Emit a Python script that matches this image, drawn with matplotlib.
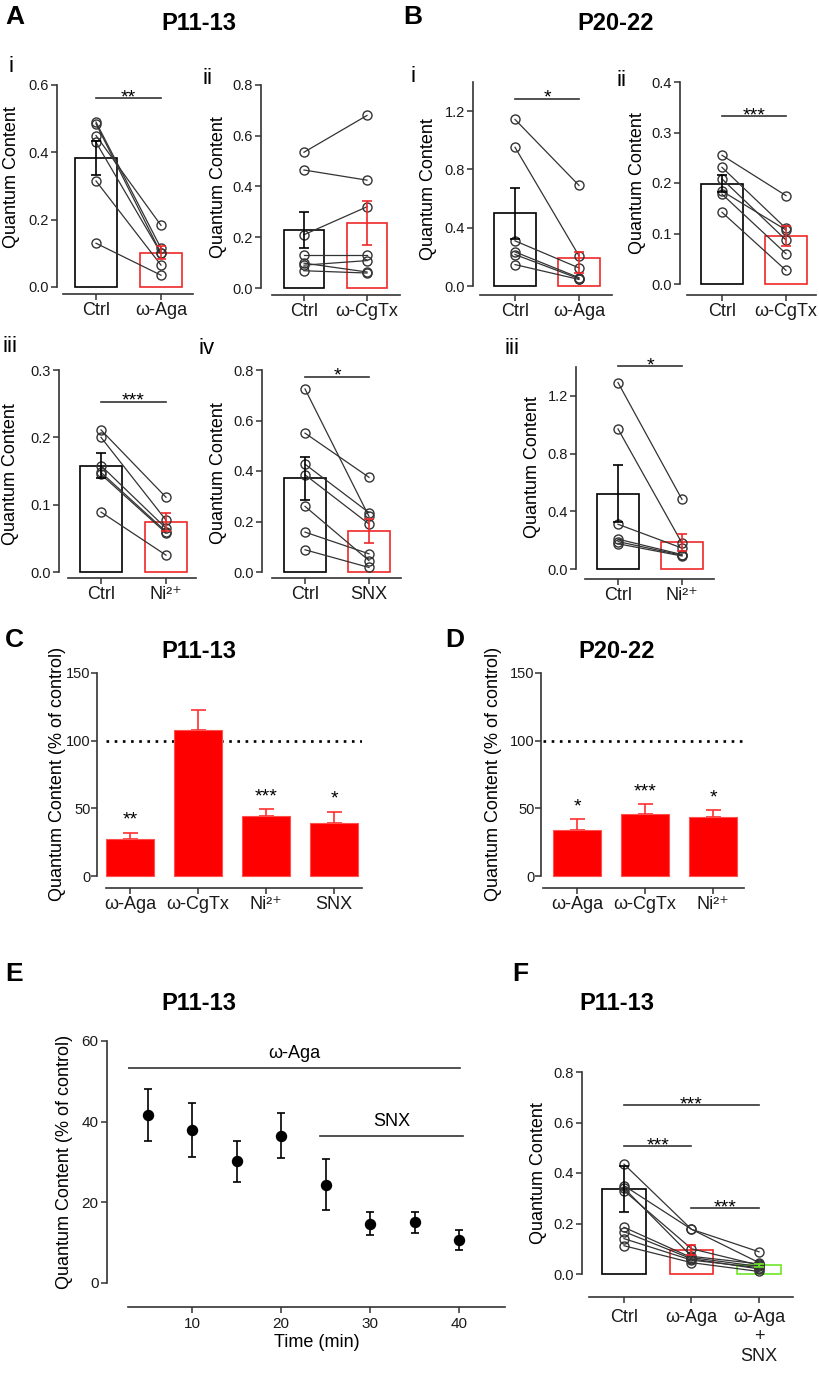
import matplotlib
matplotlib.use("Agg")
import matplotlib.pyplot as plt
import numpy as np

# ---- values ----
# A (P11-13), paired cells: control vs drug
ai_labels = ["Ctrl", "ω-Aga"]
ai_ctrl = [0.49, 0.485, 0.45, 0.43, 0.315, 0.13]
ai_drug = [0.115, 0.10, 0.183, 0.10, 0.065, 0.035]
ai_mean = [0.383, 0.102]
ai_sem = [0.05, 0.02]

aii_labels = ["Ctrl", "ω-CgTx"]
aii_ctrl = [0.535, 0.465, 0.21, 0.13, 0.098, 0.09, 0.068]
aii_drug = [0.68, 0.425, 0.32, 0.13, 0.063, 0.108, 0.059]
aii_mean = [0.228, 0.256]
aii_sem = [0.072, 0.088]

aiii_labels = ["Ctrl", "Ni²⁺"]
aiii_ctrl = [0.211, 0.20, 0.158, 0.148, 0.145, 0.089]
aiii_drug = [0.111, 0.077, 0.065, 0.060, 0.058, 0.025]
aiii_mean = [0.158, 0.074]
aiii_sem = [0.018, 0.013]

aiv_labels = ["Ctrl", "SNX"]
aiv_ctrl = [0.725, 0.55, 0.427, 0.385, 0.26, 0.158, 0.088]
aiv_drug = [0.22, 0.375, 0.235, 0.19, 0.045, 0.072, 0.018]
aiv_mean = [0.372, 0.163]
aiv_sem = [0.085, 0.048]

# B (P20-22)
bi_labels = ["Ctrl", "ω-Aga"]
bi_ctrl = [1.143, 0.952, 0.31, 0.234, 0.216, 0.147]
bi_drug = [0.69, 0.207, 0.124, 0.057, 0.05, 0.045]
bi_mean = [0.499, 0.195]
bi_sem = [0.176, (0.105, 0.035)]

bii_labels = ["Ctrl", "ω-CgTx"]
bii_ctrl = [0.255, 0.231, 0.208, 0.184, 0.178, 0.142]
bii_drug = [0.175, 0.11, 0.087, 0.107, 0.06, 0.027]
bii_mean = [0.199, 0.095]
bii_sem = [0.016, 0.02]

biii_labels = ["Ctrl", "Ni²⁺"]
biii_ctrl = [1.292, 0.971, 0.31, 0.207, 0.19, 0.175]
biii_drug = [0.482, 0.179, 0.145, 0.10, 0.095, 0.09]
biii_mean = [0.523, 0.184]
biii_sem = [0.195, 0.06]

# C / D: % of control
c_labels = ["ω-Aga", "ω-CgTx", "Ni²⁺", "SNX"]
c_mean = [27.2, 108.2, 44.7, 39.5]
c_sem = [4.8, 14.6, 4.5, 7.5]
c_stars = ["**", "", "***", "*"]
c_star_y = [45.5, 0, 62.8, 61.5]

d_labels = ["ω-Aga", "ω-CgTx", "Ni²⁺"]
d_mean = [34.3, 46.0, 43.7]
d_sem = [7.5, 7.4, 4.7]
d_stars = ["*", "***", "*"]
d_star_y = [55.6, 66.5, 61.8]

# E: time course
e_time = [5, 10, 15, 20, 25, 30, 35, 40]
e_mean = [41.6, 37.9, 30.2, 36.5, 24.4, 14.7, 15.1, 10.7]
e_sem = [6.5, 6.7, 5.1, 5.6, 6.3, 2.8, 2.6, 2.4]
e_drugs = ["ω-Aga", "SNX"]
e_drug_start = [2.8, 24.4]
e_drug_end = [40.1, 40.4]
e_drug_y = [53.3, 36.5]

# F: Ctrl -> ω-Aga -> ω-Aga + SNX
f_labels = ["Ctrl", "ω-Aga", "ω-Aga\n+\nSNX"]
f_ctrl = [0.435, 0.35, 0.34, 0.33, 0.185, 0.168, 0.14, 0.112]
f_aga = [0.177, 0.177, 0.07, 0.10, 0.065, 0.06, 0.055, 0.045]
f_snx = [0.088, 0.045, 0.04, 0.035, 0.03, 0.02, 0.025, 0.01]
f_mean = [0.337, 0.095, 0.034]
f_sem = [0.09, 0.018, 0.005]

# ---- style ----
plt.rcParams["font.family"] = ["Liberation Sans", "DejaVu Sans"]

W, H = 820, 1373
PT = 72 / 100
DARK = "#333333"
RED = "#f02828"
GREEN = "#6ee62a"

fig = plt.figure(figsize=(W / 100, H / 100), dpi=100)


def ftext(x, y, s, **kw):
    fig.text(x / W, 1 - y / H, s, **kw)


def make_axes(box, yax, xax, cat, vals):
    x0, x1, ytop, y0 = box
    ax = fig.add_axes([x0 / W, 1 - y0 / H, (x1 - x0) / W, (y0 - ytop) / H])
    u = (cat[1] - cat[0]) / (vals[1] - vals[0])
    ax.set_xlim(vals[0] + (x0 - cat[0]) / u, vals[0] + (x1 - cat[0]) / u)
    for s in ("top", "right"):
        ax.spines[s].set_visible(False)
    ax.spines["left"].set_position(("outward", (x0 - yax) * PT))
    ax.spines["bottom"].set_position(("outward", (xax - y0) * PT))
    for s in ("left", "bottom"):
        ax.spines[s].set_color(DARK)
        ax.spines[s].set_linewidth(1.2)
    ax.tick_params(colors=DARK, width=1.1, length=4.5, labelcolor="#1a1a1a")
    ax.tick_params(axis="y", labelsize=10.5, pad=1.5)
    ax.tick_params(axis="x", labelsize=13, pad=1)
    ax.patch.set_alpha(0)
    return ax


def sig(ax, a, b, y, s):
    ax.plot([a, b], [y, y], color=DARK, lw=1.2, clip_on=False)
    ax.annotate(s, ((a + b) / 2, y), xytext=(0, -3), textcoords="offset points",
                ha="center", va="baseline", fontsize=14, annotation_clip=False)


def paired(ax, labels, groups, mean, err, colors, ymax, yticks, sigs):
    xs = np.arange(len(labels))
    ax.set_ylim(0, ymax)
    ax.set_yticks(yticks)
    ax.set_yticklabels([f"{t:.1f}" for t in yticks])
    ax.set_xticks(xs)
    ax.set_xticklabels(labels)
    ax.bar(xs, mean, width=0.65, facecolor="none", edgecolor=colors, lw=1.2,
           clip_on=False, zorder=1)
    for cell in zip(*groups):
        ax.plot(xs, cell, color=DARK, lw=0.9, marker="o", ms=6.5, mfc="none",
                mec=DARK, mew=1.0, zorder=3, clip_on=False)
    for i, e in enumerate(err):
        lo, hi = e if isinstance(e, tuple) else (e, e)
        ax.errorbar(i, mean[i], yerr=[[lo], [hi]], fmt="none", ecolor=colors[i],
                    capsize=3.6, elinewidth=1.2, capthick=1.2, zorder=4)
    for a, b, y, s in sigs:
        sig(ax, a, b, y, s)


def pct_bars(ax, labels, mean, sem, stars, star_y):
    xs = np.arange(len(labels))
    ax.set_ylim(0, 150)
    ax.set_yticks([0, 50, 100, 150])
    ax.tick_params(axis="y", pad=0.5, length=4)
    ax.set_xticks(xs)
    ax.set_xticklabels(labels)
    ax.axhline(100, color="black", lw=1.9, ls=(0, (1, 2.1)), zorder=0)
    ax.bar(xs, mean, width=0.72, color="#fe0000", edgecolor="#ff5050", lw=0.8,
           clip_on=False, zorder=2)
    ax.errorbar(xs, mean, yerr=[[0] * len(xs), sem], fmt="none", ecolor="#ff3030",
                capsize=5.4, elinewidth=1.2, capthick=1.2, zorder=1)
    for x, s, y in zip(xs, stars, star_y):
        if s:
            ax.annotate(s, (x, y), xytext=(0, -7.4), textcoords="offset points",
                        ha="center", va="baseline", fontsize=14)


rc = ["black", RED]

# A i
ax = make_axes((63, 193, 85, 287), 57, 294, (96, 161), (0, 1))
paired(ax, ai_labels, [ai_ctrl, ai_drug], ai_mean, ai_sem, rc, 0.6,
       [0, 0.2, 0.4, 0.6], [(0, 1, 0.56, "**")])
# A ii
ax = make_axes((272, 400, 85, 288), 261, 295, (304, 367), (0, 1))
paired(ax, aii_labels, [aii_ctrl, aii_drug], aii_mean, aii_sem, rc, 0.8,
       [0, 0.2, 0.4, 0.6, 0.8], [])
# A iii
ax = make_axes((68, 196, 370, 572), 59, 578, (101, 166), (0, 1))
paired(ax, aiii_labels, [aiii_ctrl, aiii_drug], aiii_mean, aiii_sem, rc, 0.3,
       [0, 0.1, 0.2, 0.3], [(0, 1, 0.253, "***")])
# A iv
ax = make_axes((272, 401, 370, 572), 262, 578, (305, 369), (0, 1))
paired(ax, aiv_labels, [aiv_ctrl, aiv_drug], aiv_mean, aiv_sem, rc, 0.8,
       [0, 0.2, 0.4, 0.6, 0.8], [(0, 1, 0.774, "*")])
# B i
ax = make_axes((480, 612, 82, 286), 473, 295, (515, 579), (0, 1))
paired(ax, bi_labels, [bi_ctrl, bi_drug], bi_mean, bi_sem, rc, 1.4,
       [0, 0.4, 0.8, 1.2], [(0, 1, 1.285, "*")])
# B ii
ax = make_axes((687, 816, 82, 284), 680, 295, (722, 786), (0, 1))
paired(ax, bii_labels, [bii_ctrl, bii_drug], bii_mean, bii_sem, rc, 0.4,
       [0, 0.1, 0.2, 0.3, 0.4], [(0, 1, 0.332, "***")])
# B iii
ax = make_axes((585, 714, 367, 569), 576, 579, (618, 682), (0, 1))
paired(ax, biii_labels, [biii_ctrl, biii_drug], biii_mean, biii_sem, rc, 1.4,
       [0, 0.4, 0.8, 1.2], [(0, 1, 1.407, "*")])

# C
ax = make_axes((106, 362, 673, 876), 97, 888, (130, 334), (0, 3))
pct_bars(ax, c_labels, c_mean, c_sem, c_stars, c_star_y)
# D
ax = make_axes((543, 744, 673, 876), 541, 888, (577, 713), (0, 2))
pct_bars(ax, d_labels, d_mean, d_sem, d_stars, d_star_y)

# E
ax = make_axes((128, 505, 1041, 1283), 107, 1307, (192, 459), (10, 40))
ax.set_ylim(0, 60)
ax.set_yticks([0, 20, 40, 60])
ax.set_xticks([10, 20, 30, 40])
ax.tick_params(axis="both", labelsize=11)
ax.tick_params(axis="x", pad=3)
ax.errorbar(e_time, e_mean, yerr=e_sem, fmt="o", color="black", ms=7.2,
            capsize=3, elinewidth=1.2, capthick=1.2)
for name, xa, xb, y in zip(e_drugs, e_drug_start, e_drug_end, e_drug_y):
    ax.plot([xa, xb], [y, y], color=DARK, lw=1.2)
    ax.text((xa + xb) / 2, y + 3.6, name, ha="center", va="center", fontsize=13)
ax.set_xlabel("Time (min)", fontsize=13, labelpad=2)

# F
ax = make_axes((589, 793, 1072, 1274), 582, 1297, (624, 759), (0, 2))
paired(ax, f_labels, [f_ctrl, f_aga, f_snx], f_mean, f_sem, ["black", RED, GREEN],
       0.8, [0, 0.2, 0.4, 0.6, 0.8],
       [(0, 2, 0.668, "***"), (0, 1, 0.507, "***"), (1, 2, 0.26, "***")])
ax.tick_params(axis="x", pad=4)

# ---- y labels (x = baseline position in px) ----
yl = dict(rotation=90, rotation_mode="anchor", ha="center", va="baseline",
          fontsize=13)
for x, y in [(16, 177), (223, 187), (15, 474), (223, 473), (433, 189),
             (642, 183), (537, 467), (543, 1173)]:
    ftext(x, y, "Quantum Content", **yl)
for x, y in [(62, 774), (498, 774), (69, 1162)]:
    ftext(x, y, "Quantum Content (% of control)", **yl)

# ---- titles, panel letters, numerals ----
tt = dict(ha="center", va="center", fontsize=17, fontweight="bold")
ftext(199, 24, "P11-13", **tt)
ftext(616, 24, "P20-22", **tt)
ftext(199, 652, "P11-13", **tt)
ftext(617, 652, "P20-22", **tt)
ftext(199, 1003, "P11-13", **tt)
ftext(617, 1003, "P11-13", **tt)

lt = dict(ha="left", va="center", fontsize=19, fontweight="bold")
for x, y, s in [(5, 17, "A"), (403, 17, "B"), (5, 640, "C"), (445, 640, "D"),
                (5, 974, "E"), (512, 974, "F")]:
    ftext(x, y, s, **lt)

nt = dict(ha="left", va="center", fontsize=16)
for x, y, s in [(9, 66, "i"), (203, 79, "ii"), (3, 347, "iii"), (199, 348, "iv"),
                (411, 77, "i"), (617, 80, "ii"), (505, 348, "iii")]:
    ftext(x, y, s, **nt)

fig.savefig("out.png", dpi=100)
